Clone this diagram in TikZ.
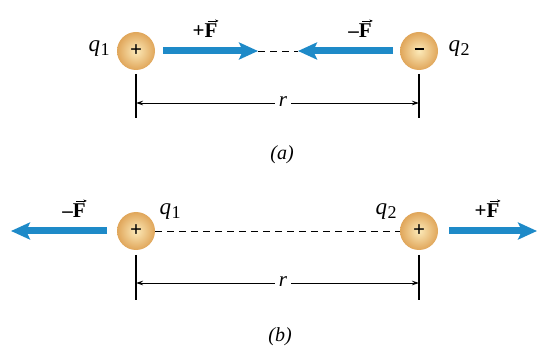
\documentclass[tikz,border=0pt]{standalone}
\usepackage{fontspec}
\setmainfont{Liberation Serif}
\usetikzlibrary{arrows.meta}
\definecolor{forceblue}{RGB}{30,138,200}
\definecolor{ballin}{RGB}{252,234,185}
\definecolor{ballout}{RGB}{224,166,90}
\newcommand{\qlab}[1]{\textit{q}\kern0.5pt\raisebox{-0.35ex}{\fontsize{18}{18}\selectfont #1}}
\tikzset{
  charge/.style={circle,minimum size=38pt,inner sep=0pt,shading=radial,
    inner color=ballin,outer color=ballout,font=\fontsize{21}{21}\selectfont\bfseries},
  force/.style={draw=forceblue,line width=7pt,
    -{Stealth[length=19pt,width=17pt,inset=4pt]}},
  dimline/.style={line width=0.9pt,
    {Stealth[length=7pt,width=4.5pt]}-{Stealth[length=7pt,width=4.5pt]}},
  tickline/.style={line width=1.1pt},
  lbl/.style={inner sep=1pt,font=\fontsize{23}{23}\selectfont},
  flbl/.style={inner sep=0pt,font=\fontsize{21}{21}\selectfont\bfseries},
  vecarrow/.style={line width=0.7pt,-{Stealth[length=3.5pt,width=3pt]}},
  rlbl/.style={fill=white,inner sep=4pt,font=\fontsize{21}{21}\selectfont\itshape},
  conn/.style={dash pattern=on 7pt off 5pt,line width=0.8pt},
  caption/.style={font=\fontsize{20}{20}\selectfont\itshape}
}
\begin{document}
\begin{tikzpicture}[x=1pt,y=-1pt]
\useasboundingbox (0,0) rectangle (538,347);
% ---------- (a) ----------
\node[charge] (a1) at (136,51) {+};
\node[charge] (a2) at (419,51) {\raisebox{0.35ex}{\rule{9pt}{1.8pt}}};
\node[lbl] (aq1) at (99,49) {\qlab{1}};
\node[lbl] (aq2) at (459,49) {\qlab{2}};
\coordinate (af1s) at (163,51);
\coordinate (af1e) at (258,51);
\coordinate (af2s) at (393,51);
\coordinate (af2e) at (298,51);
\draw[conn] (af1e) -- (af2e);
\draw[force] (af1s) -- (af1e);
\draw[force] (af2s) -- (af2e);
\node[flbl] (aF1) at (205,31) {+F};
\node[flbl] (aF2) at (360,31) {–F};
\draw[vecarrow] ([xshift=-10pt,yshift=3pt]aF1.north east) -- ([xshift=1pt,yshift=3pt]aF1.north east);
\draw[vecarrow] ([xshift=-10pt,yshift=3pt]aF2.north east) -- ([xshift=1pt,yshift=3pt]aF2.north east);
\coordinate (at1t) at (136,74);
\coordinate (at1b) at (136,118);
\coordinate (at2t) at (419,74);
\coordinate (at2b) at (419,118);
\draw[tickline] (at1t) -- (at1b);
\draw[tickline] (at2t) -- (at2b);
\coordinate (ad1) at (136,103);
\coordinate (ad2) at (419,103);
\draw[dimline] (ad1) -- (ad2);
\node[rlbl] (ar) at (283,102) {r};
\node[caption] (acap) at (282,155) {(a)};
% ---------- (b) ----------
\node[charge] (b1) at (136,231) {+};
\node[charge] (b2) at (419,231) {+};
\node[lbl] (bq1) at (170,212) {\qlab{1}};
\node[lbl] (bq2) at (386,212) {\qlab{2}};
\draw[conn] (b1) -- (b2);
\coordinate (bf1s) at (107,231);
\coordinate (bf1e) at (11,231);
\coordinate (bf2s) at (449,231);
\coordinate (bf2e) at (537,231);
\draw[force] (bf1s) -- (bf1e);
\draw[force] (bf2s) -- (bf2e);
\node[flbl] (bF1) at (74,211) {–F};
\node[flbl] (bF2) at (487,211) {+F};
\draw[vecarrow] ([xshift=-10pt,yshift=3pt]bF1.north east) -- ([xshift=1pt,yshift=3pt]bF1.north east);
\draw[vecarrow] ([xshift=-10pt,yshift=3pt]bF2.north east) -- ([xshift=1pt,yshift=3pt]bF2.north east);
\coordinate (bt1t) at (136,255);
\coordinate (bt1b) at (136,300);
\coordinate (bt2t) at (419,255);
\coordinate (bt2b) at (419,300);
\draw[tickline] (bt1t) -- (bt1b);
\draw[tickline] (bt2t) -- (bt2b);
\coordinate (bd1) at (136,283);
\coordinate (bd2) at (419,283);
\draw[dimline] (bd1) -- (bd2);
\node[rlbl] (br) at (283,282) {r};
\node[caption] (bcap) at (280,337) {(b)};
\end{tikzpicture}
\end{document}
